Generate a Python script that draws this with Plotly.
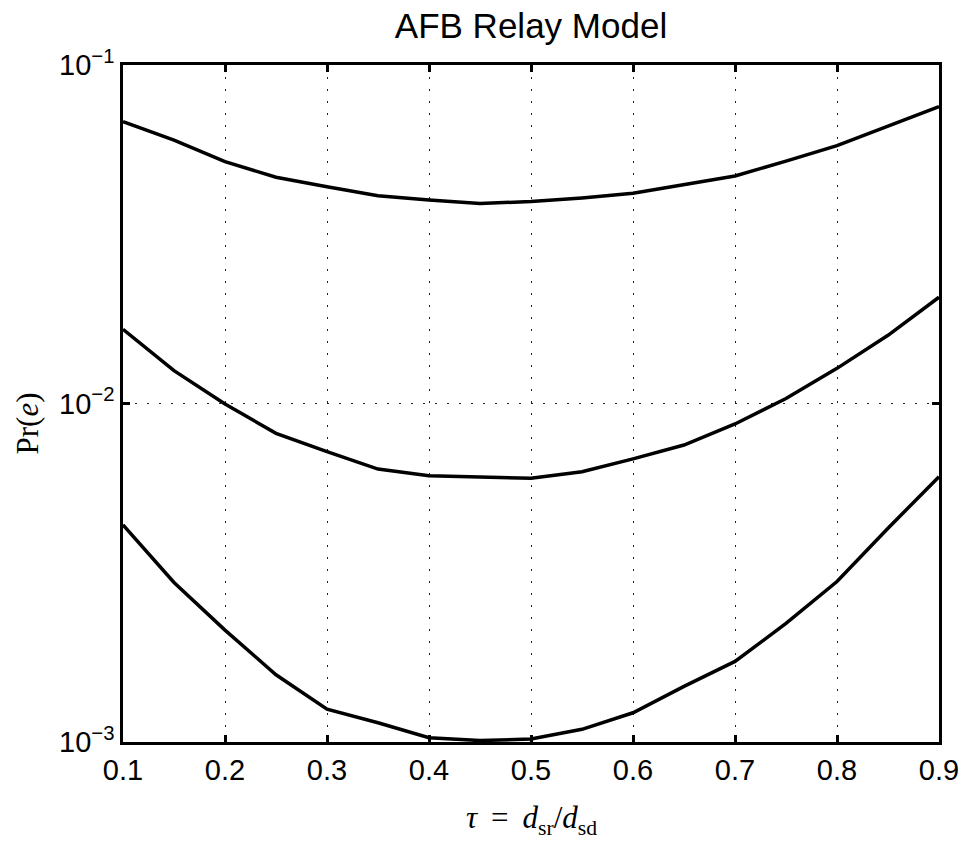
import plotly.graph_objects as go

tau = [0.10, 0.15, 0.20, 0.25, 0.30, 0.35, 0.40, 0.45, 0.50, 0.55, 0.60, 0.65, 0.70, 0.75, 0.80, 0.85, 0.90]
pe_top = [0.0680, 0.0600, 0.0518, 0.0466, 0.0437, 0.0411, 0.0399, 0.0390, 0.0395, 0.0405, 0.0418, 0.0442, 0.0470, 0.0520, 0.0578, 0.0660, 0.0753]
pe_mid = [0.01656, 0.01250, 0.00997, 0.00816, 0.00721, 0.00640, 0.00612, 0.00606, 0.00601, 0.00629, 0.00686, 0.00754, 0.00870, 0.01035, 0.01270, 0.01590, 0.02060]
pe_low = [0.00438, 0.00296, 0.00214, 0.00158, 0.00125, 0.00114, 0.00103, 0.00101, 0.00102, 0.00109, 0.00122, 0.00146, 0.00173, 0.00224, 0.00298, 0.00428, 0.00608]

x_ticks = [0.1, 0.2, 0.3, 0.4, 0.5, 0.6, 0.7, 0.8, 0.9]
x_ticktext = ["0.1", "0.2", "0.3", "0.4", "0.5", "0.6", "0.7", "0.8", "0.9"]
y_ticks = [1e-3, 1e-2, 1e-1]
y_ticktext = ["10<sup>\u22123</sup>", "10<sup>\u22122</sup>", "10<sup>\u22121</sup>"]

fig = go.Figure()
for ys in (pe_top, pe_mid, pe_low):
    fig.add_trace(go.Scatter(x=tau, y=ys, mode="lines",
                             line=dict(color="black", width=3.5), showlegend=False))

axis_common = dict(
    showline=True, linecolor="black", linewidth=2.5, mirror="ticks",
    ticks="inside", ticklen=7, tickwidth=2.5, tickcolor="black",
    showgrid=True, gridcolor="#222222", gridwidth=1, griddash="1.5px,10.5px",
    zeroline=False,
    tickfont=dict(family="Liberation Sans, Arial, sans-serif", size=29, color="black"),
)

fig.update_xaxes(range=[0.1, 0.9], tickvals=x_ticks, ticktext=x_ticktext, **axis_common)
fig.update_yaxes(type="log", range=[-3, -1], tickvals=y_ticks, ticktext=y_ticktext, **axis_common)

serif = "Liberation Serif, DejaVu Serif, serif"
fig.add_annotation(
    text="<i>\u03c4</i> \u2009=\u2009 <i>d</i><sub>sr</sub>/<i>d</i><sub>sd</sub>",
    xref="paper", yref="paper", x=0.5, y=-0.115, xanchor="center", yanchor="middle",
    showarrow=False, font=dict(family=serif, size=31, color="black"))
fig.add_annotation(
    text="Pr(<i>e</i>)", textangle=-90,
    xref="paper", yref="paper", x=-0.1168, y=0.47, xanchor="center", yanchor="middle",
    showarrow=False, font=dict(family=serif, size=31, color="black"))

fig.update_layout(
    width=971, height=841,
    margin=dict(l=123, r=26, t=65, b=99),
    paper_bgcolor="white", plot_bgcolor="white",
    title=dict(text="AFB Relay Model", x=0.5, xref="paper", xanchor="center",
               yref="container", y=0.969, yanchor="middle",
               font=dict(family="Liberation Sans, Arial, sans-serif", size=35, color="black")),
)

fig.write_html("out.html")
